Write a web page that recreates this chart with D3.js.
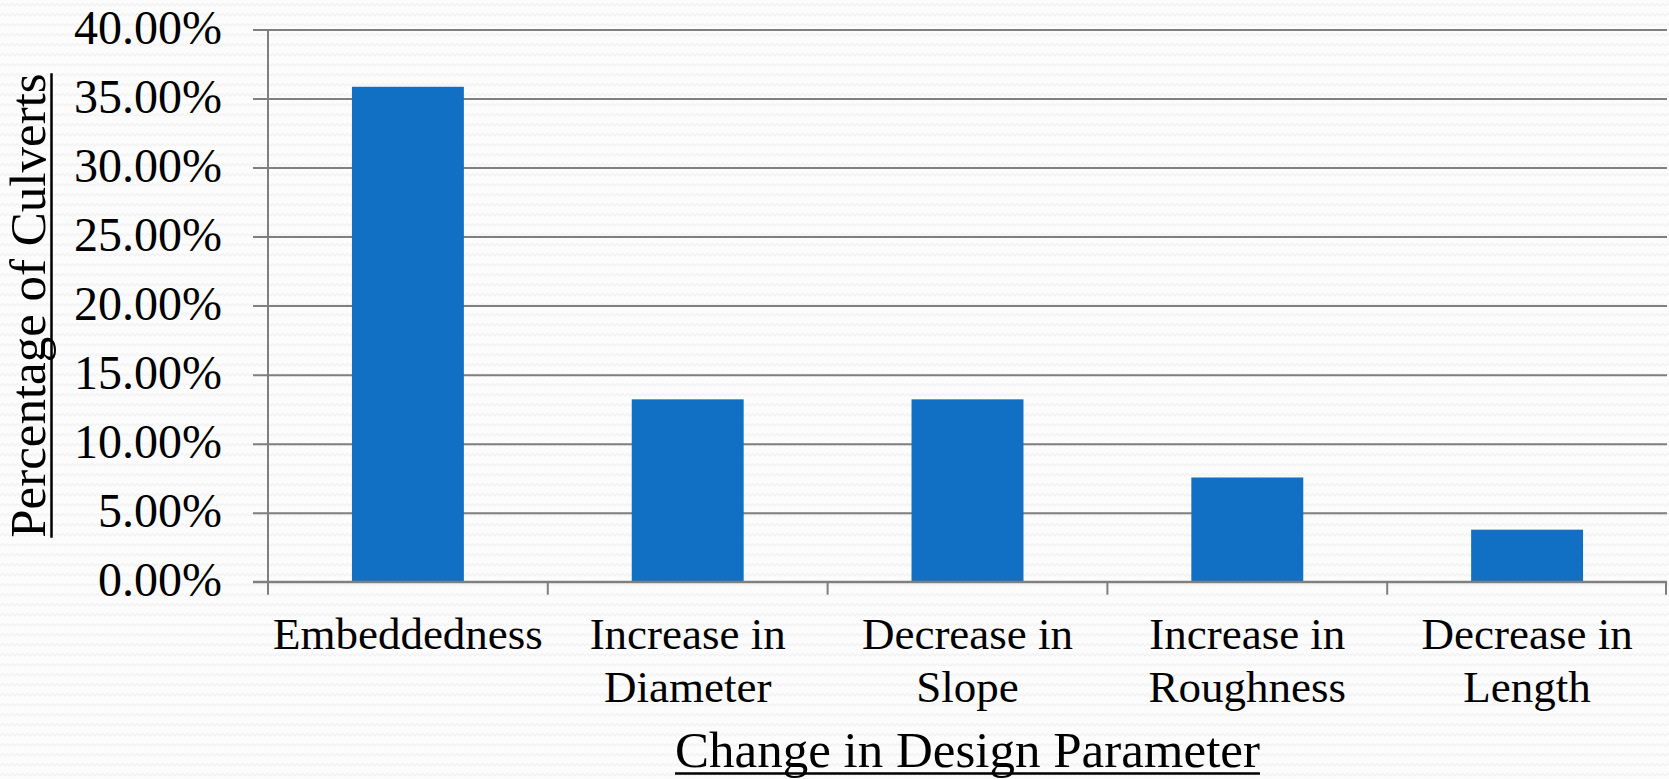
<!DOCTYPE html>
<html>
<head>
<meta charset="utf-8">
<script src="https://cdn.jsdelivr.net/npm/d3@7"></script>
<style>
  html, body { margin: 0; padding: 0; background: #fbfbfb; }
  svg { display: block; }
  text { font-family: "Liberation Serif", "Times New Roman", serif; fill: #000; }
</style>
</head>
<body>
<svg id="chart" width="1669" height="779"></svg>
<script>
// Share of culverts for each change in design parameter (percent)
const categories = [
  ["Embeddedness"],
  ["Increase in", "Diameter"],
  ["Decrease in", "Slope"],
  ["Increase in", "Roughness"],
  ["Decrease in", "Length"]
];
const values = [35.85, 13.21, 13.21, 7.55, 3.77];
const yTicks = [0, 5, 10, 15, 20, 25, 30, 35, 40];
const xTitle = "Change in Design Parameter";
const yTitle = "Percentage of Culverts";

const W = 1669, H = 779;
const plot = { left: 268, right: 1667, top: 29.5, bottom: 581.7 };
const svg = d3.select("#chart");

// faint zig-zag paper texture
const defs = svg.append("defs");
const pat = defs.append("pattern")
  .attr("id", "texture").attr("patternUnits", "userSpaceOnUse")
  .attr("width", 10).attr("height", 10);
pat.append("rect").attr("width", 10).attr("height", 10).attr("fill", "#fcfcfc");
pat.append("path")
  .attr("d", "M0,6 L2.5,3.5 L5,6 L7.5,3.5 L10,6")
  .attr("fill", "none").attr("stroke", "#f1f1f1").attr("stroke-width", 1.1);
svg.append("rect").attr("width", W).attr("height", H).attr("fill", "url(#texture)");

const keys = categories.map(c => c.join(" "));
const x = d3.scaleBand().domain(keys).range([plot.left, plot.right])
  .paddingInner(0.6).paddingOuter(0.3);
const y = d3.scaleLinear().domain([0, 40]).range([plot.bottom, plot.top]);

// horizontal gridlines with tick stubs to the left of the axis
const grid = d3.axisLeft(y).tickValues(yTicks)
  .tickSize(-(plot.right - plot.left + 15)).tickFormat("");
svg.append("g").attr("transform", `translate(${plot.left - 15},0)`)
  .call(grid)
  .call(g => g.select(".domain").remove())
  .call(g => g.selectAll(".tick line")
    .attr("x1", 0).attr("x2", plot.right - plot.left + 15)
    .attr("stroke", "#7f7f7f").attr("stroke-width", 2));

// y tick labels
svg.append("g").selectAll("text").data(yTicks).join("text")
  .attr("x", 222).attr("y", d => y(d) + 14)
  .attr("text-anchor", "end")
  .style("font-size", "48px")
  .text(d => d.toFixed(2) + "%");

// bars
svg.append("g").selectAll("rect").data(values).join("rect")
  .attr("x", (d, i) => x(keys[i]))
  .attr("y", d => y(d))
  .attr("width", x.bandwidth())
  .attr("height", d => y(0) - y(d))
  .attr("fill", "#116fc4");

// y axis line
svg.append("line")
  .attr("x1", plot.left).attr("x2", plot.left)
  .attr("y1", plot.top).attr("y2", plot.bottom + 12)
  .attr("stroke", "#7f7f7f").attr("stroke-width", 2);

// x axis line and category boundary ticks
const step = x.step();
const bounds = d3.range(keys.length + 1).map(i => x(keys[0]) - step * x.paddingOuter() + i * step);
svg.append("line")
  .attr("x1", plot.left - 15).attr("x2", plot.right)
  .attr("y1", plot.bottom).attr("y2", plot.bottom)
  .attr("stroke", "#7f7f7f").attr("stroke-width", 2);
svg.append("g").selectAll("line").data(bounds).join("line")
  .attr("x1", d => Math.min(d, plot.right - 1)).attr("x2", d => Math.min(d, plot.right - 1))
  .attr("y1", plot.bottom).attr("y2", plot.bottom + 13)
  .attr("stroke", "#7f7f7f").attr("stroke-width", 2);

// category labels
const cat = svg.append("g").selectAll("text").data(categories).join("text")
  .attr("text-anchor", "middle")
  .attr("transform", (d, i) => `translate(${x(keys[i]) + x.bandwidth() / 2},0)`)
  .style("font-size", "45px");
cat.selectAll("tspan").data(d => d).join("tspan")
  .attr("x", 0).attr("y", (d, j) => 649 + j * 52.5)
  .text(d => d);

// axis titles, underlined
const xt = svg.append("text")
  .attr("x", (plot.left + plot.right) / 2).attr("y", 767)
  .attr("text-anchor", "middle")
  .style("font-size", "51px")
  .text(xTitle);
const xb = xt.node().getBBox();
svg.append("line")
  .attr("x1", xb.x).attr("x2", xb.x + xb.width)
  .attr("y1", 773.5).attr("y2", 773.5)
  .attr("stroke", "#000").attr("stroke-width", 2.5);

const yg = svg.append("g").attr("transform", `translate(45,${(plot.top + plot.bottom) / 2}) rotate(-90)`);
const yt = yg.append("text")
  .attr("x", 0).attr("y", 0)
  .attr("text-anchor", "middle")
  .style("font-size", "51px")
  .text(yTitle);
const yb = yt.node().getBBox();
yg.append("line")
  .attr("x1", yb.x).attr("x2", yb.x + yb.width)
  .attr("y1", 6.5).attr("y2", 6.5)
  .attr("stroke", "#000").attr("stroke-width", 2.5);
</script>
</body>
</html>
